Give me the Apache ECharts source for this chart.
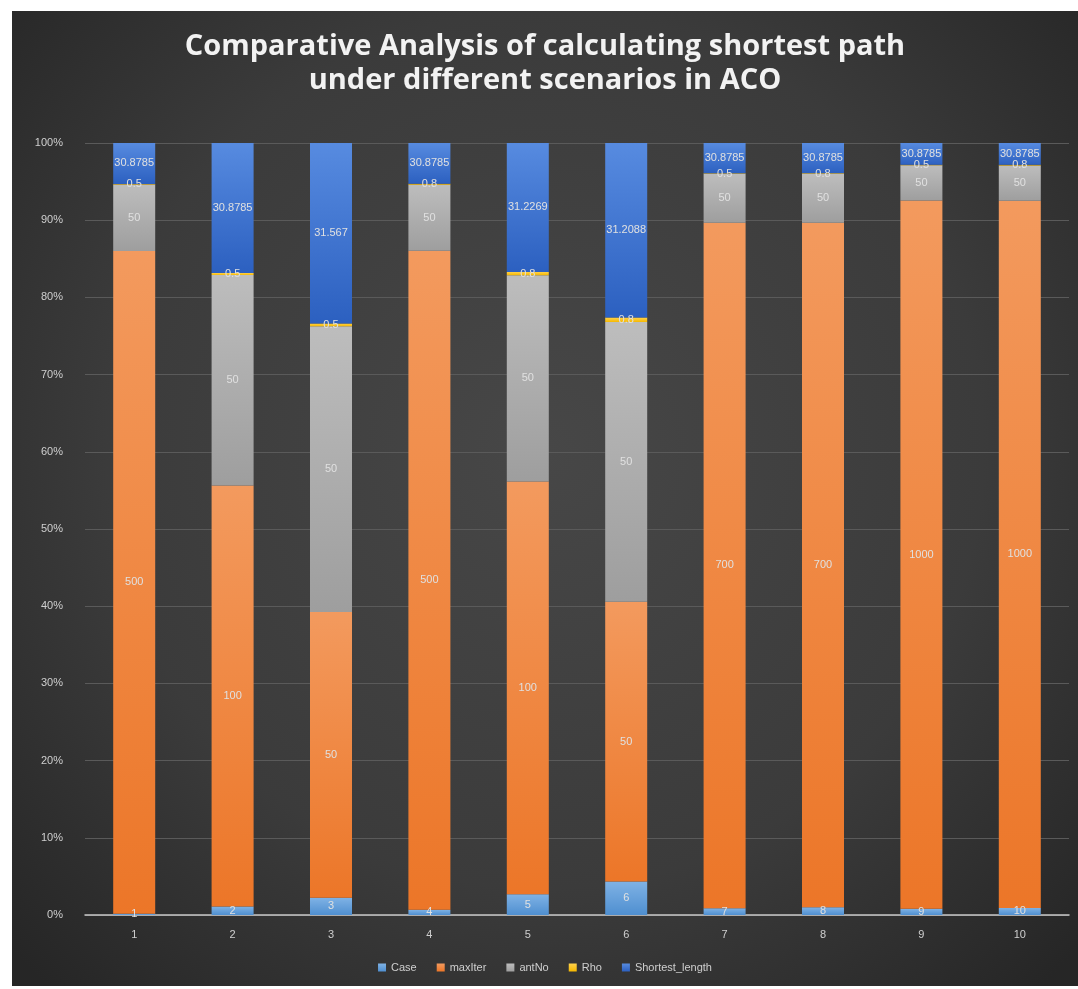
<!DOCTYPE html>
<html>
<head>
<meta charset="utf-8">
<script src="https://cdn.jsdelivr.net/npm/echarts@6/dist/echarts.min.js"></script>
<style>
  html, body { margin: 0; padding: 0; background: #ffffff; }
  #chart { position: absolute; left: 12px; top: 11px; width: 1066px; height: 975px; }
</style>
</head>
<body>
<div id="chart"></div>
<script>
// ACO parameter scenarios (one column per case)
const categories = ['1', '2', '3', '4', '5', '6', '7', '8', '9', '10'];
const caseNo = [1, 2, 3, 4, 5, 6, 7, 8, 9, 10];
const maxIter = [500, 100, 50, 500, 100, 50, 700, 700, 1000, 1000];
const antNo = [50, 50, 50, 50, 50, 50, 50, 50, 50, 50];
const rho = [0.5, 0.5, 0.5, 0.8, 0.8, 0.8, 0.5, 0.8, 0.5, 0.8];
const shortestLength = [30.8785, 30.8785, 31.567, 30.8785, 31.2269, 31.2088, 30.8785, 30.8785, 30.8785, 30.8785];
const yTicks = [0, 10, 20, 30, 40, 50, 60, 70, 80, 90, 100];

const seriesDefs = [
  { name: 'Case', values: caseNo, top: '#7fb2e5', bottom: '#4f8fd0' },
  { name: 'maxIter', values: maxIter, top: '#f39a5e', bottom: '#ec7628' },
  { name: 'antNo', values: antNo, top: '#bdbdbd', bottom: '#9e9e9e' },
  { name: 'Rho', values: rho, top: '#ffd24d', bottom: '#f5b800' },
  { name: 'Shortest_length', values: shortestLength, top: '#578be0', bottom: '#2c60c0' }
];

// column totals for the 100% stack
const totals = categories.map((_, i) => seriesDefs.reduce((s, d) => s + d.values[i], 0));

const chart = echarts.init(document.getElementById('chart'));

const series = seriesDefs.map(d => ({
  name: d.name,
  type: 'bar',
  stack: 'all',
  barWidth: 42,
  data: d.values.map((v, i) => ({ value: v / totals[i] * 100, raw: v })),
  itemStyle: {
    color: new echarts.graphic.LinearGradient(0, 0, 0, 1, [
      { offset: 0, color: d.top },
      { offset: 1, color: d.bottom }
    ])
  },
  label: {
    show: true,
    position: 'inside',
    color: '#e0e0e0',
    fontFamily: 'Liberation Sans Narrow, Liberation Sans, sans-serif',
    fontSize: 11,
    formatter: p => String(p.data.raw)
  },
  emphasis: { disabled: true }
}));

chart.setOption({
  animation: false,
  backgroundColor: {
    type: 'radial', x: 0.5, y: 0.45, r: 0.75,
    colorStops: [
      { offset: 0, color: '#474747' },
      { offset: 0.6, color: '#3b3b3b' },
      { offset: 1, color: '#262626' }
    ]
  },
  title: {
    text: 'Comparative Analysis of calculating shortest path\nunder different scenarios in ACO',
    left: 'center',
    top: 14,
    textStyle: {
      color: '#f2f2f2',
      fontFamily: 'Open Sans, sans-serif',
      fontWeight: 'bold',
      fontSize: 29,
      lineHeight: 34
    }
  },
  legend: {
    bottom: 8,
    left: 'center',
    itemWidth: 8,
    itemHeight: 8,
    itemGap: 20,
    icon: 'rect',
    textStyle: { color: '#cfcfcf', fontSize: 11, fontFamily: 'Liberation Sans, sans-serif' },
    data: seriesDefs.map(d => d.name)
  },
  grid: { left: 73, right: 9, top: 132, bottom: 71, containLabel: false },
  xAxis: {
    type: 'category',
    data: categories,
    axisLine: { lineStyle: { color: '#c8c8c8', width: 1.5 } },
    axisTick: { show: false },
    axisLabel: { color: '#cfcfcf', fontSize: 11, margin: 14, fontFamily: 'Liberation Sans, sans-serif' }
  },
  yAxis: {
    type: 'value',
    min: yTicks[0],
    max: yTicks[yTicks.length - 1],
    interval: yTicks[1] - yTicks[0],
    axisLine: { show: false },
    axisTick: { show: false },
    axisLabel: { color: '#cfcfcf', fontSize: 11, margin: 22, formatter: '{value}%', fontFamily: 'Liberation Sans, sans-serif' },
    splitLine: { lineStyle: { color: '#5a5a5a', width: 1 } }
  },
  series: series
});
</script>
</body>
</html>
